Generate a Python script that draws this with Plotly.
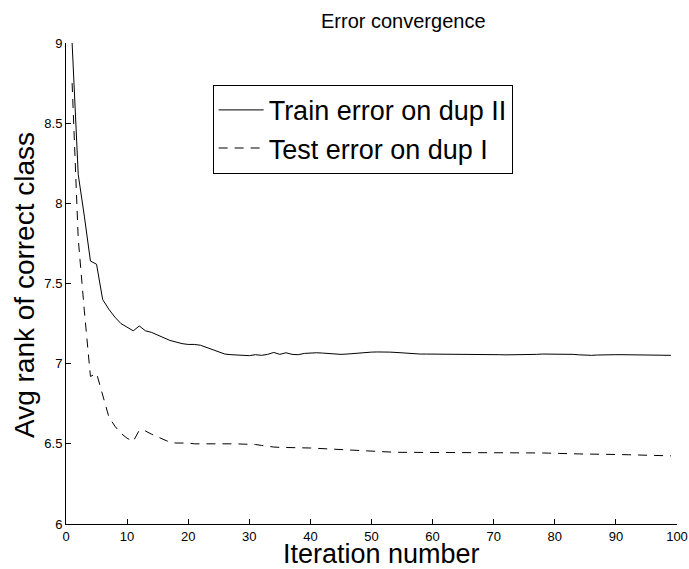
import plotly.graph_objects as go

iterations = list(range(1, 100))

train_error = [
    9.00, 8.18, 7.92, 7.64, 7.62, 7.40, 7.34, 7.29, 7.25, 7.23,
    7.205, 7.235, 7.205, 7.195, 7.18, 7.16, 7.145, 7.135, 7.125, 7.12,
    7.12, 7.115, 7.10, 7.085, 7.07, 7.06, 7.056, 7.054, 7.052, 7.05,
    7.056, 7.052, 7.058, 7.07, 7.058, 7.068, 7.058, 7.056, 7.064, 7.068,
    7.068, 7.066, 7.062, 7.058, 7.058, 7.06, 7.064, 7.068, 7.07, 7.072,
    7.073, 7.074, 7.072, 7.07, 7.067, 7.064, 7.062, 7.06, 7.06, 7.06,
    7.058, 7.058, 7.06, 7.06, 7.058, 7.056, 7.056, 7.056, 7.056, 7.056,
    7.056, 7.055, 7.055, 7.056, 7.056, 7.056, 7.058, 7.06, 7.06, 7.06,
    7.06, 7.06, 7.058, 7.055, 7.052, 7.052, 7.054, 7.056, 7.056, 7.056,
    7.056, 7.056, 7.056, 7.056, 7.054, 7.052, 7.052, 7.052, 7.052,
]

test_error = [
    8.75, 7.78, 7.33, 6.92, 6.94, 6.80, 6.67, 6.61, 6.565, 6.535,
    6.515, 6.585, 6.58, 6.56, 6.545, 6.525, 6.51, 6.505, 6.505, 6.505,
    6.50, 6.50, 6.50, 6.502, 6.503, 6.502, 6.50, 6.50, 6.498, 6.497,
    6.496, 6.49, 6.484, 6.48, 6.478, 6.478, 6.478, 6.477, 6.476, 6.474,
    6.472, 6.47, 6.468, 6.466, 6.463, 6.461, 6.459, 6.457, 6.455, 6.453,
    6.45, 6.448, 6.447, 6.447, 6.447, 6.447, 6.447, 6.447, 6.446, 6.446,
    6.446, 6.446, 6.446, 6.446, 6.446, 6.446, 6.446, 6.446, 6.446, 6.446,
    6.446, 6.446, 6.446, 6.446, 6.446, 6.445, 6.444, 6.443, 6.442, 6.442,
    6.44, 6.439, 6.438, 6.437, 6.437, 6.436, 6.435, 6.435, 6.434, 6.434,
    6.433, 6.432, 6.431, 6.43, 6.428, 6.426, 6.426, 6.425, 6.425,
]

x_ticks = [0, 10, 20, 30, 40, 50, 60, 70, 80, 90, 100]
y_ticks = [6, 6.5, 7, 7.5, 8, 8.5, 9]
y_tick_labels = ["6", "6.5", "7", "7.5", "8", "8.5", "9"]

FONT = "Liberation Sans, Arial, Helvetica, sans-serif"

fig = go.Figure()
fig.add_trace(go.Scatter(
    x=iterations, y=train_error, mode="lines", name="Train error on dup II",
    line=dict(color="black", width=1),
))
fig.add_trace(go.Scatter(
    x=iterations, y=test_error, mode="lines", name="Test error on dup I",
    line=dict(color="black", width=1, dash="9px,7px"),
))

fig.update_layout(
    width=689, height=569,
    margin=dict(l=66, r=12, t=43, b=45, autoexpand=False),
    paper_bgcolor="white", plot_bgcolor="white",
    font=dict(family=FONT, color="black"),
    title=dict(text="Error convergence", x=0.552, xref="paper", xanchor="center",
               y=0.963, yref="container", yanchor="middle",
               font=dict(size=20, family=FONT, color="black")),
    showlegend=True,
    legend=dict(
        x=0.24, y=0.913, xanchor="left", yanchor="top",
        bordercolor="black", borderwidth=1, bgcolor="white",
        font=dict(size=27, family=FONT, color="black"),
        itemwidth=45, tracegroupgap=0,
    ),
    xaxis=dict(
        range=[0, 100], tickmode="array", tickvals=x_ticks,
        ticks="inside", ticklen=5, tickcolor="black", tickwidth=1,
        showline=True, linecolor="black", linewidth=1, mirror=False,
        showgrid=False, zeroline=False, automargin=False,
        tickfont=dict(size=13, family=FONT, color="black"),
    ),
    yaxis=dict(
        range=[6, 9], tickmode="array", tickvals=y_ticks, ticktext=y_tick_labels,
        ticks="inside", ticklen=5, tickcolor="black", tickwidth=1,
        showline=True, linecolor="black", linewidth=1, mirror=False,
        showgrid=False, zeroline=False, automargin=False,
        tickfont=dict(size=13, family=FONT, color="black"),
    ),
    annotations=[
        dict(text="Iteration number", xref="paper", yref="paper",
             x=0.517, y=-0.062, xanchor="center", yanchor="middle", showarrow=False,
             font=dict(size=27, family=FONT, color="black")),
        dict(text="Avg rank of correct class", xref="paper", yref="paper",
             x=-0.067, y=0.497, xanchor="center", yanchor="middle", showarrow=False,
             textangle=-90, font=dict(size=28, family=FONT, color="black")),
    ],
)

fig.write_html("out.html", config={"displayModeBar": False},
               post_script="document.body.style.margin='0px';")
